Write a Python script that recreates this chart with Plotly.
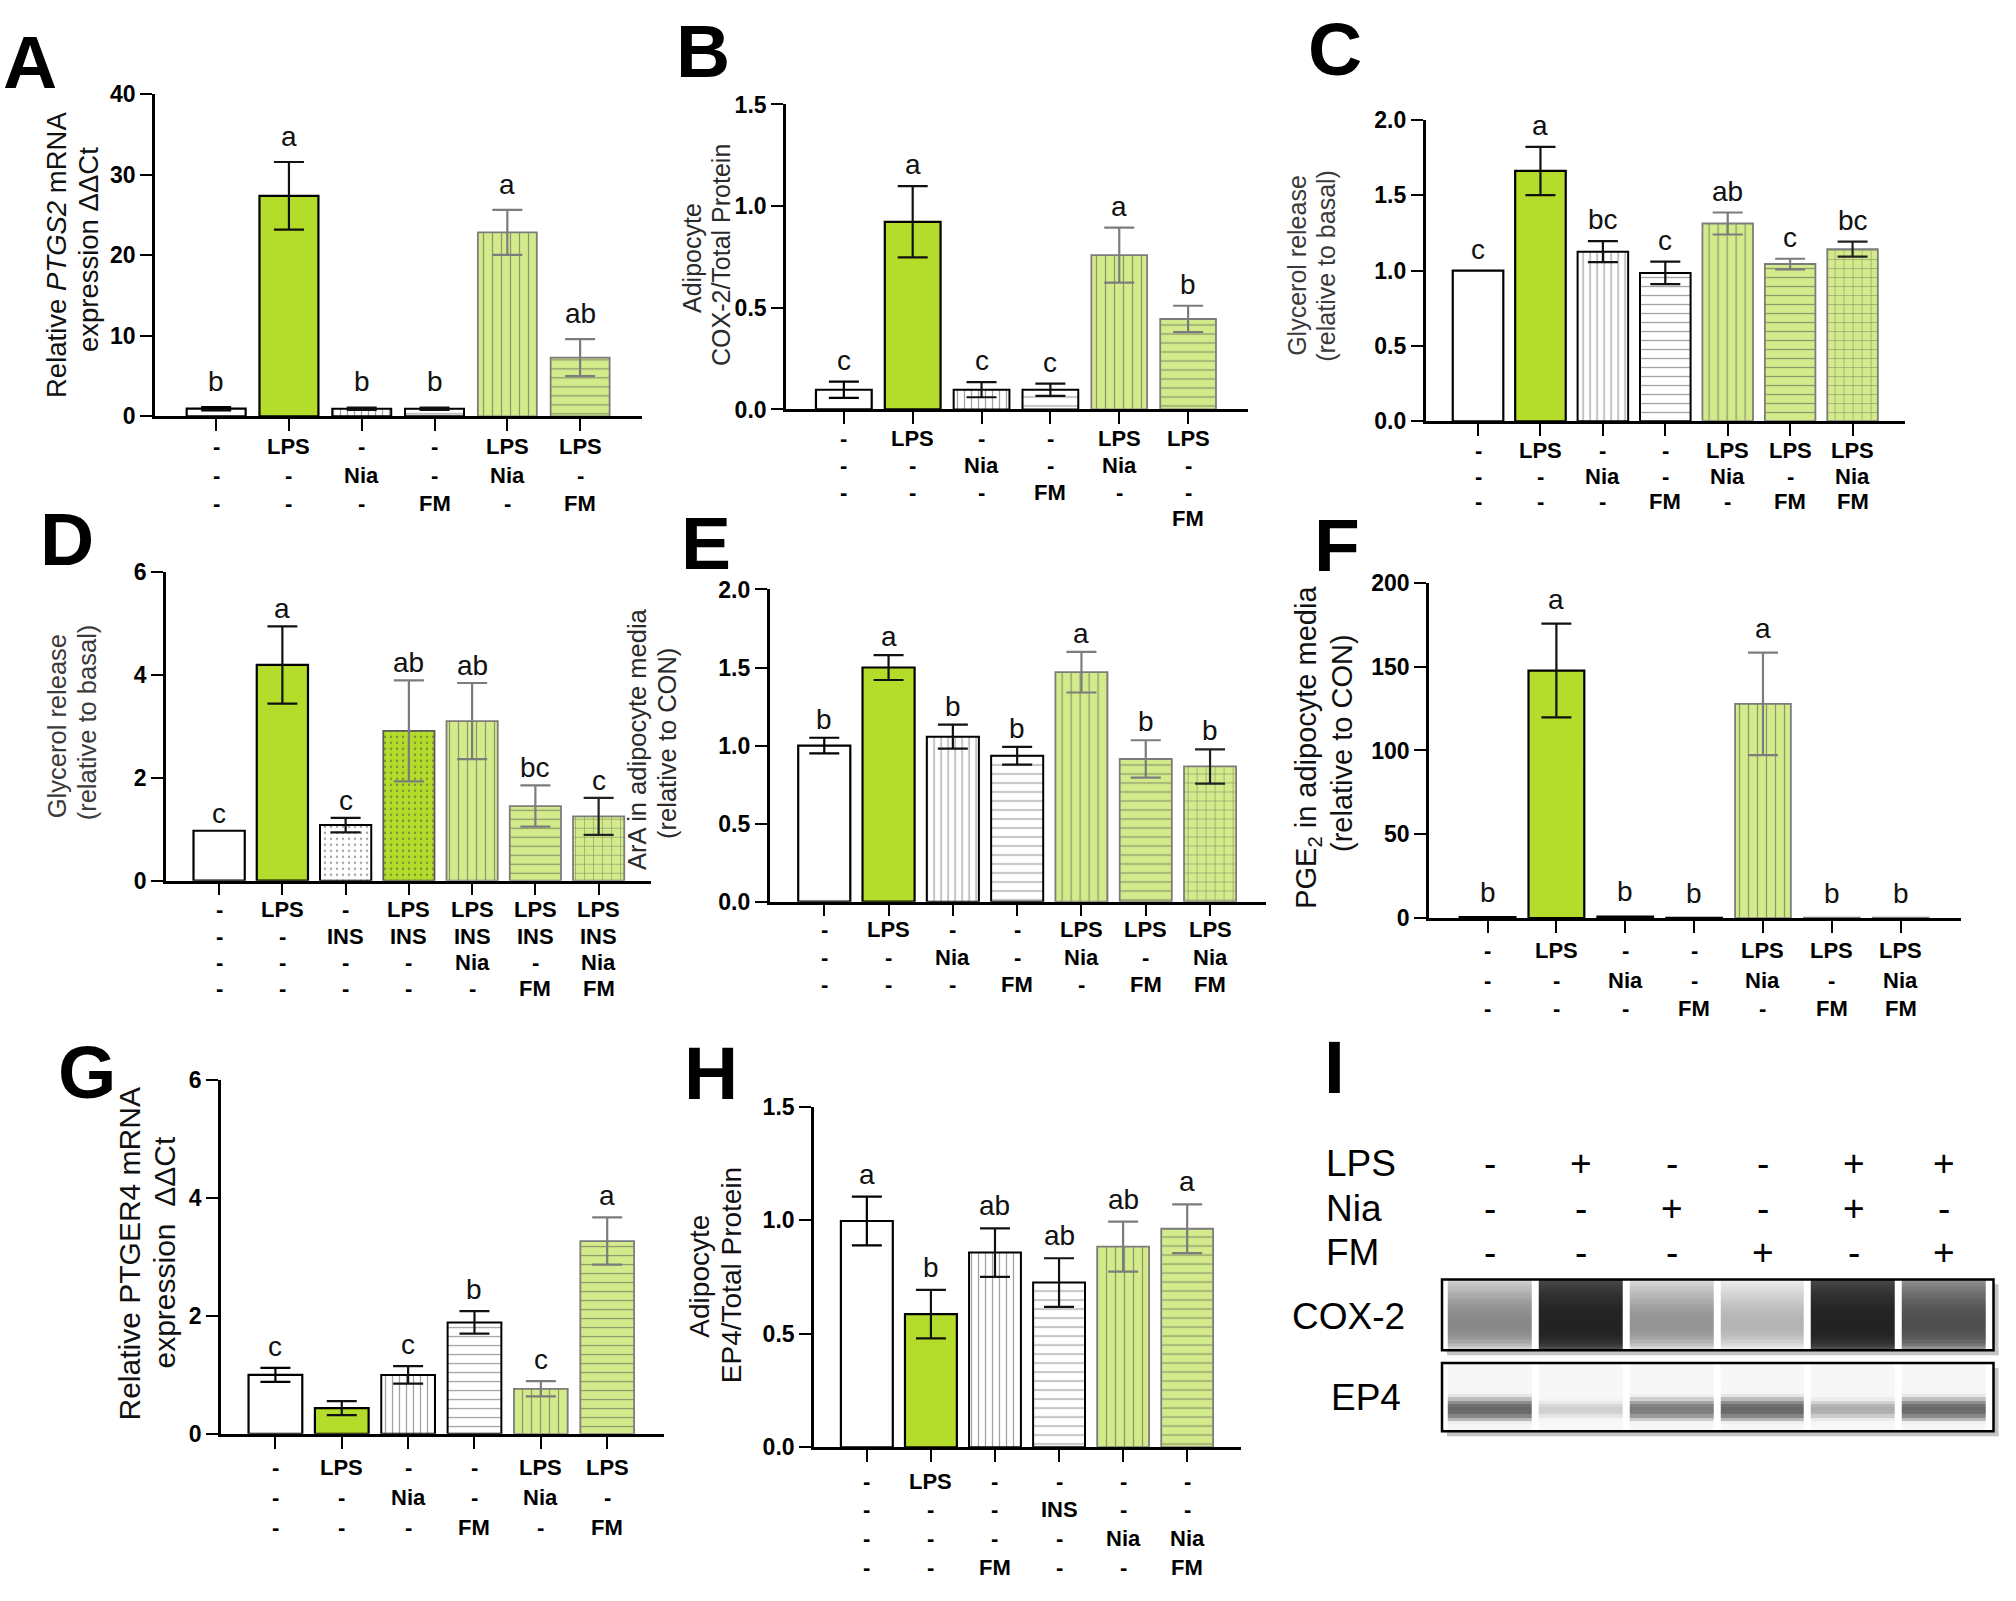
import plotly.graph_objects as go

W, H = 2016, 1601
FONT = "Liberation Sans, Arial, Helvetica, sans-serif"

GREEN = "#b3dc2b"
LIGHT = "#d4eb8c"
EDGE_GRAY = "#7c7c7c"

# ------------------------------------------------------------------ data
A_means = [0.95, 27.4, 0.95, 0.95, 22.85, 7.3]
A_err = [0.2, 4.2, 0.15, 0.15, 2.8, 2.3]
A_letters = ["b", "a", "b", "b", "a", "ab"]
A_rows = [["-", "LPS", "-", "-", "LPS", "LPS"],
          ["-", "-", "Nia", "-", "Nia", "-"],
          ["-", "-", "-", "FM", "-", "FM"]]
A_styles = ["white", "green", "white_v", "white_h", "light_v", "light_h"]

B_means = [0.097, 0.923, 0.097, 0.097, 0.759, 0.445]
B_err = [0.04, 0.175, 0.037, 0.03, 0.135, 0.065]
B_letters = ["c", "a", "c", "c", "a", "b"]
B_rows = [["-", "LPS", "-", "-", "LPS", "LPS"],
          ["-", "-", "Nia", "-", "Nia", "-"],
          ["-", "-", "-", "FM", "-", "-"],
          ["", "", "", "", "", "FM"]]
B_styles = ["white", "green", "white_v", "white_h", "light_v", "light_h"]

C_means = [1.0, 1.662, 1.126, 0.985, 1.313, 1.044, 1.143]
C_err = [0.0, 0.16, 0.07, 0.075, 0.073, 0.035, 0.05]
C_letters = ["c", "a", "bc", "c", "ab", "c", "bc"]
C_rows = [["-", "LPS", "-", "-", "LPS", "LPS", "LPS"],
          ["-", "-", "Nia", "-", "Nia", "-", "Nia"],
          ["-", "-", "-", "FM", "-", "FM", "FM"]]
C_styles = ["white", "green", "white_v", "white_h", "light_v", "light_h", "light_grid"]

D_means = [0.97, 4.19, 1.08, 2.91, 3.10, 1.45, 1.25]
D_err = [0.0, 0.75, 0.14, 0.98, 0.74, 0.40, 0.36]
D_letters = ["c", "a", "c", "ab", "ab", "bc", "c"]
D_rows = [["-", "LPS", "-", "LPS", "LPS", "LPS", "LPS"],
          ["-", "-", "INS", "INS", "INS", "INS", "INS"],
          ["-", "-", "-", "-", "Nia", "-", "Nia"],
          ["-", "-", "-", "-", "-", "FM", "FM"]]
D_styles = ["white", "green", "white_dot", "green_dot", "light_v", "light_h", "light_grid"]

E_means = [1.0, 1.50, 1.057, 0.935, 1.47, 0.914, 0.866]
E_err = [0.05, 0.08, 0.077, 0.057, 0.13, 0.12, 0.11]
E_letters = ["b", "a", "b", "b", "a", "b", "b"]
E_rows = [["-", "LPS", "-", "-", "LPS", "LPS", "LPS"],
          ["-", "-", "Nia", "-", "Nia", "-", "Nia"],
          ["-", "-", "-", "FM", "-", "FM", "FM"]]
E_styles = ["white", "green", "white_v", "white_h", "light_v", "light_h", "light_grid"]

F_means = [0.5, 147.7, 1.0, 0.2, 127.8, 0.3, 0.2]
F_err = [0.0, 28.0, 0.0, 0.0, 30.6, 0.0, 0.0]
F_letters = ["b", "a", "b", "b", "a", "b", "b"]
F_rows = [["-", "LPS", "-", "-", "LPS", "LPS", "LPS"],
          ["-", "-", "Nia", "-", "Nia", "-", "Nia"],
          ["-", "-", "-", "FM", "-", "FM", "FM"]]
F_styles = ["white", "green", "white_v", "white_h", "light_v", "light_h", "light_grid"]

G_means = [1.0, 0.436, 1.0, 1.89, 0.764, 3.27]
G_err = [0.12, 0.12, 0.15, 0.19, 0.13, 0.40]
G_letters = ["c", "", "c", "b", "c", "a"]
G_rows = [["-", "LPS", "-", "-", "LPS", "LPS"],
          ["-", "-", "Nia", "-", "Nia", "-"],
          ["-", "-", "-", "FM", "-", "FM"]]
G_styles = ["white", "green", "white_v", "white_h", "light_v", "light_h"]

H_means = [0.996, 0.586, 0.857, 0.725, 0.883, 0.962]
H_err = [0.107, 0.107, 0.107, 0.107, 0.11, 0.107]
H_letters = ["a", "b", "ab", "ab", "ab", "a"]
H_rows = [["-", "LPS", "-", "-", "-", "-"],
          ["-", "-", "-", "INS", "-", "-"],
          ["-", "-", "-", "-", "Nia", "Nia"],
          ["-", "-", "FM", "-", "-", "FM"]]
H_styles = ["white", "green", "white_v", "white_h", "light_v", "light_h"]

# Panel I (capillary western blot)
I_lanes = ["1", "2", "3", "4", "5", "6"]
I_LPS = ["-", "+", "-", "-", "+", "+"]
I_Nia = ["-", "-", "+", "-", "+", "-"]
I_FM = ["-", "-", "-", "+", "-", "+"]
I_COX2 = [0.45, 0.86, 0.40, 0.27, 0.86, 0.68]   # band darkness
I_EP4 = [0.58, 0.16, 0.50, 0.58, 0.30, 0.57]

# ------------------------------------------------------------------ styles
STYLE = {
    "white":      dict(fill="white", shape="", fg="black", size=8, sol=0.1, edge="black", ew=2.2, err="black"),
    "green":      dict(fill=GREEN, shape="", fg="black", size=8, sol=0.1, edge="black", ew=2.2, err="#111111"),
    "white_v":    dict(fill="white", shape="|", fg="#1e1e1e", size=7, sol=0.18, edge="black", ew=2.0, err="#111111"),
    "white_h":    dict(fill="white", shape="-", fg="#8e8e8e", size=9, sol=0.14, edge="black", ew=2.0, err="#111111"),
    "white_dot":  dict(fill="white", shape=".", fg="#333333", size=6, sol=0.12, edge="black", ew=2.0, err="#111111"),
    "green_dot":  dict(fill=GREEN, shape=".", fg="#6c8c1c", size=6, sol=0.14, edge="#5a5a5a", ew=1.8, err=EDGE_GRAY),
    "light_v":    dict(fill=LIGHT, shape="|", fg="#8a8a8a", size=9, sol=0.14, edge=EDGE_GRAY, ew=1.8, err=EDGE_GRAY),
    "light_h":    dict(fill=LIGHT, shape="-", fg="#8a8a8a", size=9, sol=0.14, edge=EDGE_GRAY, ew=1.8, err=EDGE_GRAY),
    "light_grid": dict(fill=LIGHT, shape="+", fg="#8a8a8a", size=9, sol=0.14, edge=EDGE_GRAY, ew=1.8, err="#222222"),
}

panels = [
    dict(key="A", means=A_means, err=A_err, letters=A_letters, rows=A_rows, styles=A_styles, ymax=40, dtick=10, fmt="d"),
    dict(key="B", means=B_means, err=B_err, letters=B_letters, rows=B_rows, styles=B_styles, ymax=1.5, dtick=0.5, fmt=".1f"),
    dict(key="C", means=C_means, err=C_err, letters=C_letters, rows=C_rows, styles=C_styles, ymax=2.0, dtick=0.5, fmt=".1f"),
    dict(key="D", means=D_means, err=D_err, letters=D_letters, rows=D_rows, styles=D_styles, ymax=6, dtick=2, fmt="d"),
    dict(key="E", means=E_means, err=E_err, letters=E_letters, rows=E_rows, styles=E_styles, ymax=2.0, dtick=0.5, fmt=".1f"),
    dict(key="F", means=F_means, err=F_err, letters=F_letters, rows=F_rows, styles=F_styles, ymax=200, dtick=50, fmt="d"),
    dict(key="G", means=G_means, err=G_err, letters=G_letters, rows=G_rows, styles=G_styles, ymax=6, dtick=2, fmt="d"),
    dict(key="H", means=H_means, err=H_err, letters=H_letters, rows=H_rows, styles=H_styles, ymax=1.5, dtick=0.5, fmt=".1f"),
]

# geometry in pixels: x0, x1, y(0), y(max), xlo, xhi
GEOM = {
    "A": (155, 642, 410, 82.7, -0.84, 5.85),
    "B": (786, 1248, 403, 93, -0.84, 5.87),
    "C": (1425.6, 1905, 415, 108.8, -0.84, 6.84),
    "D": (166, 650.5, 882, 568, -0.84, 6.82),
    "E": (769.6, 1266, 903.3, 586, -0.85, 6.87),
    "F": (1429, 1960.6, 920, 579.3, -0.85, 6.87),
    "G": (221, 663.6, 1444.3, 1084.7, -0.82, 5.85),
    "H": (814, 1241, 1457.9, 1111.6, -0.825, 5.84),
}
ROW_OFF = {
    "A": [30.5, 60, 89], "B": [30, 57, 84, 111], "C": [29.5, 56.5, 82],
    "D": [29.7, 56.3, 83, 109.7], "E": [28.4, 56.7, 84], "F": [33.3, 63.3, 91.7],
    "G": [34, 65, 95], "H": [35, 63, 93, 122],
}
LETTER_GAP = {"A": 15, "B": 11, "C": 11, "D": 7, "E": 8, "F": 14, "G": 11, "H": 12}

TITLES = {
    "A": [("Relative <i>PTGS2</i> mRNA", 56, 246, 27.5), ("expression ΔΔCt", 88, 241, 27.5)],
    "B": [("Adipocyte", 692, 249, 25), ("COX-2/Total Protein", 721, 246, 25)],
    "C": [("Glycerol release", 1297, 257, 25), ("(relative to basal)", 1326, 257, 25)],
    "D": [("Glycerol release", 57, 725, 25.5), ("(relative to basal)", 87, 721, 25.5)],
    "E": [("ArA in adipocyte media", 637, 738, 25.5), ("(relative to CON)", 667, 743, 25.5)],
    "F": [("PGE<sub>2</sub> in adipocyte media", 1308, 747, 29), ("(relative to CON)", 1342, 742, 29)],
    "G": [("Relative PTGER4 mRNA", 130, 1262, 30), ("expression \u00a0ΔΔCt", 165, 1260, 30)],
    "H": [("Adipocyte", 699.5, 1284, 28), ("EP4/Total Protein", 731, 1283, 28)],
}
TITLE_COLOR = {"A": "#111111", "B": "#2a2a2a", "C": "#3a3a3a", "D": "#3a3a3a",
               "E": "#2a2a2a", "F": "#111111", "G": "#111111", "H": "#111111"}

PANEL_LETTERS = [("A", 30, 50), ("B", 703, 39), ("C", 1335, 37),
                 ("D", 66.5, 535), ("E", 706, 539), ("F", 1337, 541),
                 ("G", 87, 1076), ("H", 711, 1078), ("I", 1334, 1071)]


def fx(x):
    return x / W


def fy(y):
    return 1 - y / H


fig = go.Figure()
layout = dict(
    width=W, height=H, margin=dict(l=0, r=0, t=0, b=0),
    paper_bgcolor="white", plot_bgcolor="rgba(0,0,0,0)",
    showlegend=False, font=dict(family=FONT, color="black"),
)
annotations = []
shapes = []

for k, p in enumerate(panels, start=1):
    key = p["key"]
    x0, x1, yb, yt, xlo, xhi = GEOM[key]
    n = len(p["means"])
    idx = list(range(n))
    sty = [STYLE[s] for s in p["styles"]]
    xs = "x" if k == 1 else f"x{k}"
    ys = "y" if k == 1 else f"y{k}"
    xname = "xaxis" if k == 1 else f"xaxis{k}"
    yname = "yaxis" if k == 1 else f"yaxis{k}"

    fig.add_trace(go.Bar(
        x=idx, y=p["means"], width=0.81, xaxis=xs, yaxis=ys,
        marker=dict(
            color=[s["fill"] for s in sty],
            line=dict(color=[s["edge"] for s in sty], width=[s["ew"] for s in sty]),
            pattern=dict(shape=[s["shape"] for s in sty],
                         fgcolor=[s["fg"] for s in sty],
                         size=[s["size"] for s in sty],
                         solidity=[s["sol"] for s in sty],
                         fillmode="overlay"),
        ),
        hoverinfo="skip", showlegend=False,
    ))

    # error bars grouped by colour
    groups = {}
    for i in idx:
        if p["err"][i] > 0:
            groups.setdefault(sty[i]["err"], []).append(i)
    for col, ii in groups.items():
        fig.add_trace(go.Scatter(
            x=ii, y=[p["means"][i] for i in ii], mode="markers",
            marker=dict(size=1, opacity=0), xaxis=xs, yaxis=ys,
            error_y=dict(type="data", array=[p["err"][i] for i in ii], visible=True,
                         color=col, thickness=2.2, width=15),
            hoverinfo="skip", showlegend=False,
        ))

    layout[xname] = dict(
        domain=[fx(x0), fx(x1)], range=[xlo, xhi], anchor=ys,
        showline=True, linecolor="black", linewidth=2.6,
        ticks="outside", ticklen=12, tickwidth=2.2, tickcolor="black",
        tickvals=idx, showticklabels=False, showgrid=False, zeroline=False,
        fixedrange=True,
    )
    layout[yname] = dict(
        domain=[fy(yb), fy(yt)], range=[0, p["ymax"]], anchor=xs,
        showline=True, linecolor="black", linewidth=2.6,
        ticks="outside", ticklen=12, tickwidth=2.2, tickcolor="black",
        dtick=p["dtick"], tick0=0, tickformat=p["fmt"],
        tickfont=dict(family=FONT, size=23, color="black", weight="bold"),
        showgrid=False, zeroline=False, fixedrange=True,
    )

    # significance letters
    for i in idx:
        if p["letters"][i]:
            annotations.append(dict(
                x=i, y=p["means"][i] + p["err"][i], xref=xs, yref=ys,
                text=p["letters"][i], showarrow=False, xanchor="center", yanchor="bottom",
                yshift=LETTER_GAP[key] - 7,
                font=dict(family=FONT, size=28, color="#111111"),
            ))

    # treatment rows under the axis
    for r, row in enumerate(p["rows"]):
        for i, lab in enumerate(row):
            if lab:
                annotations.append(dict(
                    x=i, xref=xs, y=fy(yb + ROW_OFF[key][r]), yref="paper",
                    text=lab, showarrow=False, xanchor="center", yanchor="middle",
                    font=dict(family=FONT, size=22, color="black", weight="bold"),
                ))

    # y titles
    for text, tx, ty, fs in TITLES[key]:
        annotations.append(dict(
            x=fx(tx), y=fy(ty), xref="paper", yref="paper", text=text,
            textangle=-90, showarrow=False, xanchor="center", yanchor="middle",
            font=dict(family=FONT, size=fs, color=TITLE_COLOR[key]),
        ))

# panel letters
for lab, lx, ly in PANEL_LETTERS:
    annotations.append(dict(
        x=fx(lx), y=fy(ly), xref="paper", yref="paper", text=lab, showarrow=False,
        xanchor="center", yanchor="middle",
        font=dict(family=FONT, size=75, color="black", weight="bold"),
    ))

# ------------------------------------------------------------------ panel I
# band shapes (rendering style only)
COX_PROFILE = [0.45, 0.5, 0.56, 0.62, 0.68, 0.74, 0.8, 0.85, 0.9, 0.94,
               0.97, 1.0, 1.0, 1.0, 0.97, 0.92, 0.84, 0.72, 0.58, 0.42]
EP4_PROFILE = [0.02, 0.02, 0.03, 0.03, 0.04, 0.05, 0.06, 0.08, 0.12, 0.2,
               0.38, 0.65, 0.9, 1.0, 0.95, 0.7, 0.4, 0.16, 0.06, 0.03]


def blot_z(intens, profile):
    return [[0.03 + 0.97 * (v ** (1.0 / pr)) for v in intens] for pr in profile]


BOX_X0, BOX_X1 = 1442, 1993.5
COX_Y0, COX_Y1 = 1287.3, 1359.3
EP4_Y0, EP4_Y1 = 1372.3, 1441.7
lane_idx = list(range(len(I_lanes)))

for k, (intens, prof, y0, y1) in zip((9, 10), ((I_COX2, COX_PROFILE, COX_Y0, COX_Y1),
                                              (I_EP4, EP4_PROFILE, EP4_Y0, EP4_Y1))):
    fig.add_trace(go.Heatmap(
        x=lane_idx, y=list(range(len(prof))), z=blot_z(intens, prof),
        zmin=0, zmax=1, colorscale=[[0, "white"], [1, "black"]], showscale=False,
        xgap=7, xaxis=f"x{k}", yaxis=f"y{k}", hoverinfo="skip",
    ))
    layout[f"xaxis{k}"] = dict(domain=[fx(BOX_X0), fx(BOX_X1)], range=[-0.53, 5.54],
                               anchor=f"y{k}", visible=False, fixedrange=True)
    layout[f"yaxis{k}"] = dict(domain=[fy(y1), fy(y0)], range=[len(prof) - 0.5, -0.5],
                               anchor=f"x{k}", visible=False, fixedrange=True)
    # drop shadow and frame
    shapes.append(dict(type="rect", xref="paper", yref="paper", layer="below",
                       x0=fx(BOX_X1), x1=fx(BOX_X1 + 5), y0=fy(y1 + 5), y1=fy(y0 + 5),
                       fillcolor="#c4c4c4", line=dict(width=0)))
    shapes.append(dict(type="rect", xref="paper", yref="paper", layer="below",
                       x0=fx(BOX_X0 + 5), x1=fx(BOX_X1 + 5), y0=fy(y1 + 5), y1=fy(y1),
                       fillcolor="#c4c4c4", line=dict(width=0)))
    shapes.append(dict(type="rect", xref=f"x{k} domain", yref=f"y{k} domain",
                       x0=0, x1=1, y0=0, y1=1, line=dict(color="black", width=2.5)))

for name, signs, yy in (("LPS", I_LPS, 1170), ("Nia", I_Nia, 1215), ("FM", I_FM, 1260)):
    annotations.append(dict(x=fx(1324), y=fy(yy), xref="paper", yref="paper", text=name,
                            showarrow=False, xanchor="left", yanchor="middle",
                            font=dict(family=FONT, size=37, color="black")))
    for i, s in enumerate(signs):
        annotations.append(dict(x=i, xref="x9", y=fy(yy), yref="paper", text=s,
                                showarrow=False, xanchor="center", yanchor="middle",
                                font=dict(family=FONT, size=37, color="black")))

annotations.append(dict(x=fx(1348), y=fy(1325), xref="paper", yref="paper", text="COX-2",
                        showarrow=False, xanchor="center", yanchor="middle",
                        font=dict(family=FONT, size=37, color="black")))
annotations.append(dict(x=fx(1366), y=fy(1407), xref="paper", yref="paper", text="EP4",
                        showarrow=False, xanchor="center", yanchor="middle",
                        font=dict(family=FONT, size=37, color="black")))

layout["annotations"] = annotations
layout["shapes"] = shapes
fig.update_layout(**layout)
fig.write_html("out.html", config={"displayModeBar": False},
               post_script="document.body.style.margin='0';document.body.style.overflow='hidden';")
